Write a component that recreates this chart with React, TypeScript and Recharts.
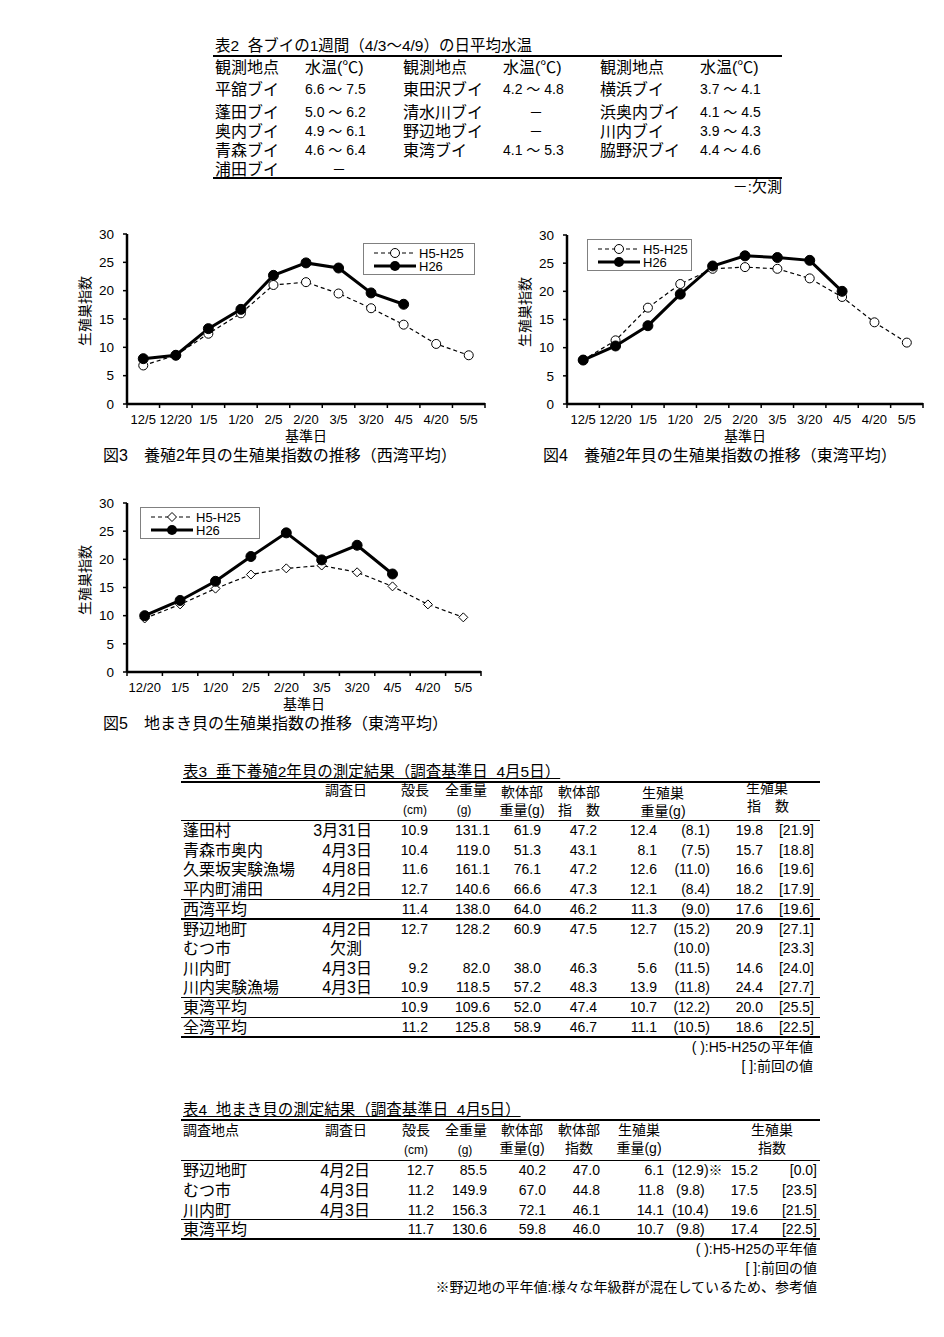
import React from 'react';
import { LineChart, Line, XAxis, YAxis } from 'recharts';

// 図3 / 図4 基準日
const bayDates = ['12/5', '12/20', '1/5', '1/20', '2/5', '2/20', '3/5', '3/20', '4/5', '4/20', '5/5'];
// 図5 基準日
const sowDates = ['12/20', '1/5', '1/20', '2/5', '2/20', '3/5', '3/20', '4/5', '4/20', '5/5'];

// 図3 西湾平均
const westNormal = [6.8, 8.6, 12.4, 16.0, 21.0, 21.5, 19.5, 16.9, 14.0, 10.6, 8.6];
const westCurrent = [8.0, 8.6, 13.3, 16.7, 22.7, 24.9, 24.0, 19.6, 17.6, null, null];
// 図4 東湾平均
const eastNormal = [7.8, 11.3, 17.1, 21.3, 24.0, 24.3, 24.0, 22.3, 19.0, 14.5, 10.9];
const eastCurrent = [7.8, 10.3, 13.9, 19.5, 24.5, 26.3, 26.0, 25.5, 20.0, null, null];
// 図5 地まき貝 東湾平均
const sowNormal = [9.5, 12.0, 14.8, 17.3, 18.4, 18.9, 17.7, 15.2, 12.0, 9.7];
const sowCurrent = [10.0, 12.7, 16.1, 20.5, 24.7, 19.9, 22.5, 17.4, null, null];

const yTicks = [0, 5, 10, 15, 20, 25, 30];

// 表2
const buoyNamesA = ['平舘ブイ', '蓬田ブイ', '奥内ブイ', '青森ブイ', '浦田ブイ'];
const buoyTempsA = ['6.6 ～ 7.5', '5.0 ～ 6.2', '4.9 ～ 6.1', '4.6 ～ 6.4', '－'];
const buoyNamesB = ['東田沢ブイ', '清水川ブイ', '野辺地ブイ', '東湾ブイ'];
const buoyTempsB = ['4.2 ～ 4.8', '－', '－', '4.1 ～ 5.3'];
const buoyNamesC = ['横浜ブイ', '浜奥内ブイ', '川内ブイ', '脇野沢ブイ'];
const buoyTempsC = ['3.7 ～ 4.1', '4.1 ～ 4.5', '3.9 ～ 4.3', '4.4 ～ 4.6'];

// 表3
const sites3 = ['蓬田村', '青森市奥内', '久栗坂実験漁場', '平内町浦田', '西湾平均', '野辺地町', 'むつ市', '川内町', '川内実験漁場', '東湾平均', '全湾平均'];
const dates3 = ['3月31日', '4月3日', '4月8日', '4月2日', '', '4月2日', '欠測', '4月3日', '4月3日', '', ''];
const shell3 = ['10.9', '10.4', '11.6', '12.7', '11.4', '12.7', '', '9.2', '10.9', '10.9', '11.2'];
const total3 = ['131.1', '119.0', '161.1', '140.6', '138.0', '128.2', '', '82.0', '118.5', '109.6', '125.8'];
const softW3 = ['61.9', '51.3', '76.1', '66.6', '64.0', '60.9', '', '38.0', '57.2', '52.0', '58.9'];
const softI3 = ['47.2', '43.1', '47.2', '47.3', '46.2', '47.5', '', '46.3', '48.3', '47.4', '46.7'];
const gonadW3 = ['12.4', '8.1', '12.6', '12.1', '11.3', '12.7', '', '5.6', '13.9', '10.7', '11.1'];
const gonadWNorm3 = ['(8.1)', '(7.5)', '(11.0)', '(8.4)', '(9.0)', '(15.2)', '(10.0)', '(11.5)', '(11.8)', '(12.2)', '(10.5)'];
const gonadI3 = ['19.8', '15.7', '16.6', '18.2', '17.6', '20.9', '', '14.6', '24.4', '20.0', '18.6'];
const gonadIPrev3 = ['[21.9]', '[18.8]', '[19.6]', '[17.9]', '[19.6]', '[27.1]', '[23.3]', '[24.0]', '[27.7]', '[25.5]', '[22.5]'];

// 表4
const sites4 = ['野辺地町', 'むつ市', '川内町', '東湾平均'];
const dates4 = ['4月2日', '4月3日', '4月3日', ''];
const shell4 = ['12.7', '11.2', '11.2', '11.7'];
const total4 = ['85.5', '149.9', '156.3', '130.6'];
const softW4 = ['40.2', '67.0', '72.1', '59.8'];
const softI4 = ['47.0', '44.8', '46.1', '46.0'];
const gonadW4 = ['6.1', '11.8', '14.1', '10.7'];
const gonadWNorm4 = ['(12.9)※', '(9.8)', '(10.4)', '(9.8)'];
const gonadI4 = ['15.2', '17.5', '19.6', '17.4'];
const gonadIPrev4 = ['[0.0]', '[23.5]', '[21.5]', '[22.5]'];

const JP = '"Liberation Sans", "Noto Sans CJK JP", sans-serif';

const T = ({ x, y, children, align = 'left', size = 15, style = {} }: any) => {
  const lh = Math.round(size * 1.3);
  const pos: any = { position: 'absolute', top: y - lh / 2, lineHeight: lh + 'px', fontSize: size, whiteSpace: 'pre', fontFamily: JP, color: '#000' };
  if (align === 'left') pos.left = x;
  if (align === 'right') pos.right = 944 - x;
  if (align === 'center') { pos.left = x; pos.transform = 'translateX(-50%)'; }
  return <div style={{ ...pos, ...style }}>{children}</div>;
};

const HLine = ({ x1, x2, y, w = 1 }: any) => (
  <div style={{ position: 'absolute', left: x1, top: y - w / 2, width: x2 - x1, height: w, background: '#000' }} />
);

const OpenCircle = (p: any) => {
  if (p.cx == null || p.cy == null || p.value == null) return null;
  return <circle key={p.index} cx={p.cx} cy={p.cy} r={4.5} fill="#fff" stroke="#000" strokeWidth={1} />;
};
const OpenDiamond = (p: any) => {
  if (p.cx == null || p.cy == null || p.value == null) return null;
  const { cx, cy } = p;
  return <polygon key={p.index} points={`${cx},${cy - 4.5} ${cx + 4.5},${cy} ${cx},${cy + 4.5} ${cx - 4.5},${cy}`} fill="#fff" stroke="#000" strokeWidth={1} />;
};
const FilledCircle = (p: any) => {
  if (p.cx == null || p.cy == null || p.value == null) return null;
  return <circle key={p.index} cx={p.cx} cy={p.cy} r={5} fill="#000" stroke="#000" />;
};

function makeDateTick(half: number, count: number) {
  return (props: any) => {
    const { x, y, payload, index } = props;
    return (
      <g>
        <line x1={x - half} x2={x - half} y1={y - 1} y2={y + 4} stroke="#000" strokeWidth={1.5} />
        {index === count - 1 && <line x1={x + half} x2={x + half} y1={y - 1} y2={y + 4} stroke="#000" strokeWidth={1.5} />}
        <text x={x} y={y + 20} textAnchor="middle" fontSize={13} fontFamily={JP} fill="#000">{payload.value}</text>
      </g>
    );
  };
}

function GonadChart({ plotLeft, plotTop, plotW, plotH, dates, normal, current, diamond, legendX, legendY, legendW, caption, captionX }: any) {
  const ML = 67, MT = 10, MR = 10, XH = 40;
  const width = plotW + ML + MR;
  const height = plotH + MT + XH;
  const left = plotLeft - ML;
  const top = plotTop - MT;
  const half = plotW / dates.length / 2;
  const data = dates.map((d: string, i: number) => ({ date: d, normal: normal[i], current: current[i] }));
  return (
    <>
      <div style={{ position: 'absolute', left, top, width, height }}>
        <LineChart width={width} height={height} data={data} margin={{ top: MT, right: MR, left: 0, bottom: 0 }}>
          <XAxis dataKey="date" height={XH} padding={{ left: half, right: half }} axisLine={{ stroke: '#000', strokeWidth: 2.5 }}
            tickLine={false} tickSize={0} tickMargin={0} interval={0} tick={makeDateTick(half, dates.length)} />
          <YAxis width={ML} domain={[0, 30]} ticks={yTicks} interval={0} axisLine={{ stroke: '#000', strokeWidth: 2.5 }}
            tickLine={{ stroke: '#000', strokeWidth: 1.5 }} tickSize={4} tickMargin={9}
            tick={{ fontSize: 13.5, fill: '#000', fontFamily: JP }} />
          <Line dataKey="normal" stroke="#000" strokeWidth={1.2} strokeDasharray="4 3"
            dot={diamond ? OpenDiamond : OpenCircle} activeDot={false} isAnimationActive={false} />
          <Line dataKey="current" stroke="#000" strokeWidth={3} dot={FilledCircle} activeDot={false} isAnimationActive={false} />
        </LineChart>
        <div style={{ position: 'absolute', left: legendX - left, top: legendY - top, width: legendW, height: 32, border: '1px solid #808080', background: '#fff', boxSizing: 'border-box' }}>
          <svg width={legendW - 2} height={30} style={{ position: 'absolute', left: 0, top: 0 }}>
            <line x1={10} x2={52} y1={9} y2={9} stroke="#000" strokeWidth={1.2} strokeDasharray="4 3" />
            {diamond
              ? <polygon points="31,4.5 35.5,9 31,13.5 26.5,9" fill="#fff" stroke="#000" />
              : <circle cx={31} cy={9} r={4.5} fill="#fff" stroke="#000" />}
            <line x1={10} x2={52} y1={22} y2={22} stroke="#000" strokeWidth={3} />
            <circle cx={31} cy={22} r={5} fill="#000" />
            <text x={55} y={13.5} fontSize={13} fontFamily={JP}>H5-H25</text>
            <text x={55} y={26.5} fontSize={13} fontFamily={JP}>H26</text>
          </svg>
        </div>
      </div>
      <T x={plotLeft - 42} y={plotTop + plotH / 2 - 8} align="center" size={14} style={{ transform: 'translateX(-50%) rotate(-90deg)' }}>生殖巣指数</T>
      <T x={plotLeft + plotW / 2} y={plotTop + plotH + 32} align="center" size={14}>基準日</T>
      <T x={captionX} y={plotTop + plotH + 51} size={16}>{caption}</T>
    </>
  );
}

export default function App() {
  const rows2 = [89, 112, 131, 150, 169];
  const rows3 = [830, 850, 869, 889, 909, 929, 948, 968, 987, 1007, 1027];
  const rows4 = [1170, 1190, 1210, 1229];
  return (
    <div style={{ position: 'absolute', left: 0, top: 0, width: 944, height: 1337, background: '#fff', overflow: 'hidden', fontFamily: JP }}>
      {/* 表2 */}
      <T x={215} y={46} size={15.5}>表2  各ブイの1週間（4/3～4/9）の日平均水温</T>
      <HLine x1={213} x2={782} y={56} w={2.5} />
      <T x={215} y={67} size={16}>観測地点</T>
      <T x={305} y={67} size={16}>水温(℃)</T>
      <T x={403} y={67} size={16}>観測地点</T>
      <T x={503} y={67} size={16}>水温(℃)</T>
      <T x={600} y={67} size={16}>観測地点</T>
      <T x={700} y={67} size={16}>水温(℃)</T>
      {buoyNamesA.map((n, i) => <T key={'a' + i} x={215} y={rows2[i]} size={16}>{n}</T>)}
      {buoyTempsA.map((v, i) => v === '－'
        ? <T key={'at' + i} x={339} y={rows2[i]} align="center" size={14}>{v}</T>
        : <T key={'at' + i} x={305} y={rows2[i]} size={14}>{v}</T>)}
      {buoyNamesB.map((n, i) => <T key={'b' + i} x={403} y={rows2[i]} size={16}>{n}</T>)}
      {buoyTempsB.map((v, i) => v === '－'
        ? <T key={'bt' + i} x={536} y={rows2[i]} align="center" size={14}>{v}</T>
        : <T key={'bt' + i} x={503} y={rows2[i]} size={14}>{v}</T>)}
      {buoyNamesC.map((n, i) => <T key={'c' + i} x={600} y={rows2[i]} size={16}>{n}</T>)}
      {buoyTempsC.map((v, i) => <T key={'ct' + i} x={700} y={rows2[i]} size={14}>{v}</T>)}
      <HLine x1={213} x2={782} y={178} w={2.5} />
      <T x={782} y={187} align="right" size={15}>－:欠測</T>

      {/* 図3, 図4, 図5 */}
      <GonadChart plotLeft={127} plotTop={234} plotW={358} plotH={170} dates={bayDates} normal={westNormal} current={westCurrent}
        legendX={363} legendY={243} legendW={112} caption="図3　養殖2年貝の生殖巣指数の推移（西湾平均）" captionX={103} />
      <GonadChart plotLeft={567} plotTop={235} plotW={356} plotH={169} dates={bayDates} normal={eastNormal} current={eastCurrent}
        legendX={587} legendY={239} legendW={105} caption="図4　養殖2年貝の生殖巣指数の推移（東湾平均）" captionX={543} />
      <GonadChart plotLeft={127} plotTop={503} plotW={354} plotH={169} dates={sowDates} normal={sowNormal} current={sowCurrent} diamond
        legendX={140} legendY={507} legendW={120} caption="図5　地まき貝の生殖巣指数の推移（東湾平均）" captionX={103} />

      {/* 表3 */}
      <T x={183} y={772} size={15.5} style={{ textDecoration: 'underline' }}>表3  垂下養殖2年貝の測定結果（調査基準日  4月5日）</T>
      <HLine x1={181} x2={820} y={782} w={2.5} />
      <T x={346} y={790} align="center" size={14}>調査日</T>
      <T x={415} y={790} align="center" size={14}>殻長</T>
      <T x={415} y={810} align="center" size={12}>(cm)</T>
      <T x={466} y={790} align="center" size={14}>全重量</T>
      <T x={464} y={810} align="center" size={12}>(g)</T>
      <T x={522} y={792} align="center" size={14}>軟体部</T>
      <T x={522} y={810} align="center" size={14}>重量(g)</T>
      <T x={579} y={792} align="center" size={14}>軟体部</T>
      <T x={579} y={810} align="center" size={14}>指　数</T>
      <T x={663} y={793} align="center" size={14}>生殖巣</T>
      <T x={663} y={811} align="center" size={14}>重量(g)</T>
      <T x={767} y={788} align="center" size={14}>生殖巣</T>
      <T x={768} y={806} align="center" size={14}>指　数</T>
      <HLine x1={181} x2={820} y={820} w={1} />
      {rows3.map((y, i) => (
        <React.Fragment key={'r3' + i}>
          <T x={183} y={y} size={16}>{sites3[i]}</T>
          {dates3[i] === '欠測'
            ? <T x={346} y={y} align="center" size={16}>{dates3[i]}</T>
            : <T x={372} y={y} align="right" size={16}>{dates3[i]}</T>}
          <T x={428} y={y} align="right" size={14}>{shell3[i]}</T>
          <T x={490} y={y} align="right" size={14}>{total3[i]}</T>
          <T x={541} y={y} align="right" size={14}>{softW3[i]}</T>
          <T x={597} y={y} align="right" size={14}>{softI3[i]}</T>
          <T x={657} y={y} align="right" size={14}>{gonadW3[i]}</T>
          <T x={710} y={y} align="right" size={14}>{gonadWNorm3[i]}</T>
          <T x={763} y={y} align="right" size={14}>{gonadI3[i]}</T>
          <T x={814} y={y} align="right" size={14}>{gonadIPrev3[i]}</T>
        </React.Fragment>
      ))}
      <HLine x1={181} x2={820} y={899} w={1} />
      <HLine x1={181} x2={820} y={919} w={2.5} />
      <HLine x1={181} x2={820} y={997} w={1} />
      <HLine x1={181} x2={820} y={1017} w={1} />
      <HLine x1={181} x2={820} y={1037} w={2.5} />
      <T x={813} y={1047} align="right" size={14}>( ):H5-H25の平年値</T>
      <T x={813} y={1066} align="right" size={14}>[ ]:前回の値</T>

      {/* 表4 */}
      <T x={183} y={1110} size={15.5} style={{ textDecoration: 'underline' }}>表4  地まき貝の測定結果（調査基準日  4月5日）</T>
      <HLine x1={181} x2={820} y={1120} w={2.5} />
      <T x={183} y={1130} size={14}>調査地点</T>
      <T x={346} y={1130} align="center" size={14}>調査日</T>
      <T x={416} y={1130} align="center" size={14}>殻長</T>
      <T x={416} y={1150} align="center" size={12}>(cm)</T>
      <T x={466} y={1130} align="center" size={14}>全重量</T>
      <T x={465} y={1150} align="center" size={12}>(g)</T>
      <T x={522} y={1130} align="center" size={14}>軟体部</T>
      <T x={522} y={1148} align="center" size={14}>重量(g)</T>
      <T x={579} y={1130} align="center" size={14}>軟体部</T>
      <T x={579} y={1148} align="center" size={14}>指数</T>
      <T x={639} y={1130} align="center" size={14}>生殖巣</T>
      <T x={639} y={1148} align="center" size={14}>重量(g)</T>
      <T x={772} y={1130} align="center" size={14}>生殖巣</T>
      <T x={772} y={1148} align="center" size={14}>指数</T>
      <HLine x1={181} x2={820} y={1160} w={1} />
      {rows4.map((y, i) => (
        <React.Fragment key={'r4' + i}>
          <T x={183} y={y} size={16}>{sites4[i]}</T>
          <T x={370} y={y} align="right" size={16}>{dates4[i]}</T>
          <T x={434} y={y} align="right" size={14}>{shell4[i]}</T>
          <T x={487} y={y} align="right" size={14}>{total4[i]}</T>
          <T x={546} y={y} align="right" size={14}>{softW4[i]}</T>
          <T x={600} y={y} align="right" size={14}>{softI4[i]}</T>
          <T x={664} y={y} align="right" size={14}>{gonadW4[i]}</T>
          <T x={gonadWNorm4[i].startsWith('(9') ? 676 : 672} y={y} size={14}>{gonadWNorm4[i]}</T>
          <T x={758} y={y} align="right" size={14}>{gonadI4[i]}</T>
          <T x={817} y={y} align="right" size={14}>{gonadIPrev4[i]}</T>
        </React.Fragment>
      ))}
      <HLine x1={181} x2={820} y={1219} w={1} />
      <HLine x1={181} x2={820} y={1239} w={2.5} />
      <T x={817} y={1249} align="right" size={14}>( ):H5-H25の平年値</T>
      <T x={817} y={1268} align="right" size={14}>[ ]:前回の値</T>
      <T x={817} y={1287} align="right" size={14}>※野辺地の平年値:様々な年級群が混在しているため、参考値</T>
    </div>
  );
}
